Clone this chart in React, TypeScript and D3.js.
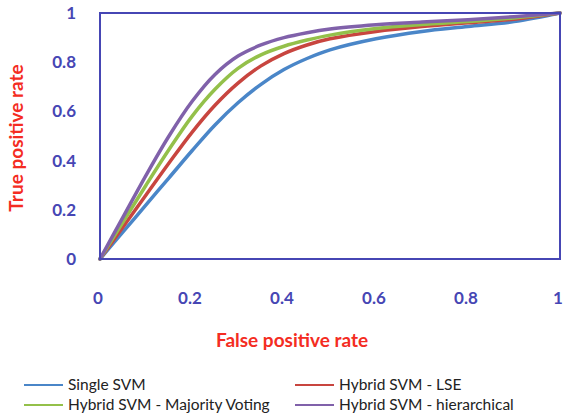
import React, { useEffect, useRef } from "react";
import * as d3 from "d3";

const fpr = [0, 0.05, 0.1, 0.15, 0.2, 0.25, 0.3, 0.35, 0.4, 0.45, 0.5, 0.6, 0.7, 0.8, 0.9, 1];
const singleSvm = [0, 0.11, 0.22, 0.33, 0.44, 0.545, 0.635, 0.71, 0.77, 0.815, 0.85, 0.895, 0.925, 0.945, 0.965, 1];
const hybridLse = [0, 0.13, 0.26, 0.39, 0.515, 0.625, 0.715, 0.785, 0.835, 0.87, 0.895, 0.925, 0.945, 0.96, 0.975, 1];
const hybridVoting = [0, 0.15, 0.3, 0.445, 0.58, 0.69, 0.775, 0.83, 0.865, 0.89, 0.91, 0.937, 0.953, 0.965, 0.98, 1];
const hybridHier = [0, 0.17, 0.34, 0.5, 0.64, 0.75, 0.825, 0.87, 0.9, 0.92, 0.935, 0.952, 0.963, 0.973, 0.985, 1];
const ticks = [0, 0.2, 0.4, 0.6, 0.8, 1];

const series = [
  { name: "Single SVM", color: "#4a86c8", values: singleSvm },
  { name: "Hybrid SVM - LSE", color: "#c8453f", values: hybridLse },
  { name: "Hybrid SVM - Majority Voting", color: "#94c04a", values: hybridVoting },
  { name: "Hybrid SVM - hierarchical", color: "#8061aa", values: hybridHier },
];

const App = () => {
  const svgRef = useRef<SVGSVGElement>(null);

  useEffect(() => {
    document.body.style.margin = "0";
    const width = 580;
    const height = 420;
    const svg = d3.select(svgRef.current);
    svg.selectAll("*").remove();
    svg.attr("width", width).attr("height", height).style("display", "block").style("background", "#fff");

    const x = d3.scaleLinear().domain([0, 1]).range([100, 560]);
    const y = d3.scaleLinear().domain([0, 1]).range([259, 13]);
    const axisColor = "#4646b4";
    const font = "Lato, 'Open Sans', sans-serif";

    // series lines (drawn under the frame)
    const line = d3
      .line<number>()
      .x((d, i) => x(fpr[i]))
      .y((d) => y(d))
      .curve(d3.curveCatmullRom.alpha(0.5));

    series.forEach((s) => {
      svg
        .append("path")
        .attr("d", line(s.values))
        .attr("fill", "none")
        .attr("stroke", s.color)
        .attr("stroke-width", 3.5)
        .attr("stroke-linecap", "round");
    });

    // plot frame
    svg
      .append("rect")
      .attr("x", x(0))
      .attr("y", y(1))
      .attr("width", x(1) - x(0))
      .attr("height", y(0) - y(1))
      .attr("fill", "none")
      .attr("stroke", axisColor)
      .attr("stroke-width", 2);

    svg
      .selectAll(".ytick")
      .data(ticks)
      .enter()
      .append("text")
      .attr("x", 76)
      .attr("y", (d) => y(d) + 6)
      .attr("text-anchor", "end")
      .attr("fill", axisColor)
      .attr("font-family", font)
      .attr("font-weight", "bold")
      .attr("font-size", "17px")
      .text((d) => d3.format("~g")(d));

    svg
      .selectAll(".xtick")
      .data(ticks)
      .enter()
      .append("text")
      .attr("x", (d) => x(d) - 2)
      .attr("y", 304)
      .attr("text-anchor", "middle")
      .attr("fill", axisColor)
      .attr("font-family", font)
      .attr("font-weight", "bold")
      .attr("font-size", "17px")
      .text((d) => d3.format("~g")(d));

    svg
      .append("text")
      .attr("x", 292)
      .attr("y", 347)
      .attr("text-anchor", "middle")
      .attr("fill", "#f42c22")
      .attr("font-family", font)
      .attr("font-weight", "bold")
      .attr("font-size", "19px")
      .text("False positive rate");

    svg
      .append("text")
      .attr("transform", "translate(23,138) rotate(-90)")
      .attr("text-anchor", "middle")
      .attr("fill", "#f42c22")
      .attr("font-family", font)
      .attr("font-weight", "bold")
      .attr("font-size", "19px")
      .text("True positive rate");

    // legend, two columns
    const legendPos = [
      { lx: 24, ly: 385 },
      { lx: 295, ly: 385 },
      { lx: 24, ly: 405 },
      { lx: 295, ly: 405 },
    ];
    series.forEach((s, i) => {
      const p = legendPos[i];
      svg
        .append("line")
        .attr("x1", p.lx)
        .attr("x2", p.lx + 39)
        .attr("y1", p.ly)
        .attr("y2", p.ly)
        .attr("stroke", s.color)
        .attr("stroke-width", 2);
      svg
        .append("text")
        .attr("x", p.lx + 44)
        .attr("y", p.ly + 5)
        .attr("fill", "#222")
        .attr("font-family", font)
        .attr("font-size", "15.5px")
        .text(s.name);
    });
  }, []);

  return <svg ref={svgRef}></svg>;
};

export default App;
